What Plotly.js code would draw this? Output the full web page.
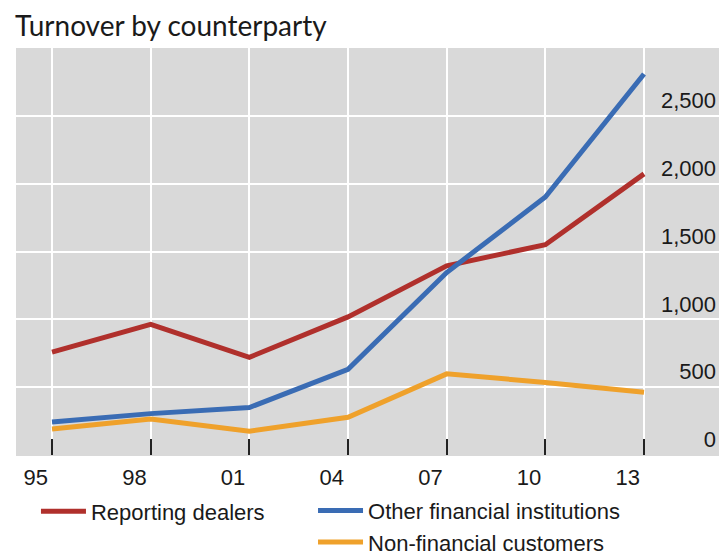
<!DOCTYPE html>
<html>
<head>
<meta charset="utf-8">
<script src="https://cdn.plot.ly/plotly-3.0.1.min.js"></script>
<style>html,body{margin:0;padding:0;background:#fff;}#chart{width:719px;height:555px;}</style>
</head>
<body>
<div id="chart"></div>
<script>
// Data (USD billions, daily averages)
var years = [1995, 1998, 2001, 2004, 2007, 2010, 2013];
var yearLabels = ['95', '98', '01', '04', '07', '10', '13'];
var reportingDealers = [758, 963, 720, 1018, 1395, 1550, 2072];
var otherFinancial = [243, 305, 350, 632, 1345, 1902, 2808];
var nonFinancial = [192, 266, 176, 278, 598, 535, 462];
var yTicks = [0, 500, 1000, 1500, 2000, 2500];

var tickFont = {family: 'Liberation Sans, Arial, sans-serif', size: 22, color: '#1a1a1a'};

var traces = [
  {x: years, y: reportingDealers, name: 'Reporting dealers', type: 'scatter', mode: 'lines',
   line: {color: '#B0302C', width: 5}, legend: 'legend'},
  {x: years, y: otherFinancial, name: 'Other financial institutions', type: 'scatter', mode: 'lines',
   line: {color: '#3A6CB4', width: 5}, legend: 'legend2'},
  {x: years, y: nonFinancial, name: 'Non-financial customers', type: 'scatter', mode: 'lines',
   line: {color: '#EFA12B', width: 5}, legend: 'legend2'}
];

var layout = {
  width: 719, height: 555,
  margin: {l: 16, r: 0, t: 48, b: 100, pad: 0, autoexpand: false},
  paper_bgcolor: '#ffffff',
  plot_bgcolor: '#d9d9d9',
  title: {
    text: 'Turnover by counterparty',
    font: {family: 'Lato, Open Sans, sans-serif', size: 28, color: '#1a1a1a'},
    xref: 'container', yref: 'container', x: 0.021, xanchor: 'left', y: 0.953, yanchor: 'middle'
  },
  xaxis: {
    range: [1993.905, 2015.28],
    tickvals: years, ticktext: yearLabels,
    ticks: 'inside', ticklen: 16, tickwidth: 2, tickcolor: '#222222',
    ticklabelposition: 'outside left',
    ticklabelstandoff: 7, ticklabelshift: -3,
    showgrid: true, gridcolor: '#ffffff', gridwidth: 2,
    zeroline: false, showline: false,
    automargin: false,
    tickfont: tickFont
  },
  yaxis: {
    range: [0, 3000],
    side: 'right',
    tickvals: yTicks, tickformat: ',',
    ticks: '',
    ticklabelposition: 'inside top',
    showgrid: true, gridcolor: '#ffffff', gridwidth: 2,
    zeroline: true, zerolinecolor: '#d9d9d9', zerolinewidth: 2,
    showline: false,
    automargin: false,
    tickfont: tickFont
  },
  showlegend: true,
  legend: {
    x: 0.0284, xanchor: 'left', y: -0.139, yanchor: 'middle',
    orientation: 'v', bgcolor: 'rgba(0,0,0,0)', borderwidth: 0,
    font: tickFont, itemwidth: 45, maxheight: 200
  },
  legend2: {
    x: 0.4225, xanchor: 'left', y: -0.176, yanchor: 'middle',
    orientation: 'v', bgcolor: 'rgba(0,0,0,0)', borderwidth: 0,
    font: tickFont, itemwidth: 45, tracegroupgap: 0, maxheight: 200
  }
};

Plotly.newPlot('chart', traces, layout, {displayModeBar: false, staticPlot: true});
</script>
</body>
</html>
